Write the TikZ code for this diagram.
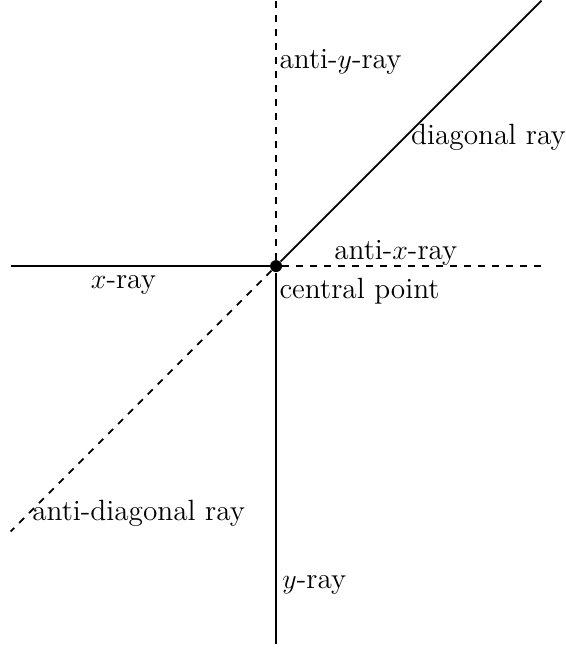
\documentclass[tikz,border=0pt]{standalone}
\usetikzlibrary{positioning}
\usepackage{amsmath}

\begin{document}
\begin{tikzpicture}[every node/.style={font=\fontsize{12.55}{15}\selectfont}, ray/.style={thick}, antiray/.style={thick, dashed}, lbl/.style={inner sep=0pt}]
        \useasboundingbox (-4.16,-5.77) rectangle (4.36,4.01);

        \node[circle, fill, inner sep=0pt, minimum size=0.18cm] (cp) at (0,0) {};
        \coordinate (xend) at (-4,0);
        \coordinate (axend) at (4,0);
        \coordinate (yend) at (0,-5.69);
        \coordinate (ayend) at (0,4);
        \coordinate (dend) at (4,4);
        \coordinate (adend) at (-4,-4);

        \draw[ray] (cp) -- (xend);
        \draw[antiray] (cp) -- (axend);
        \draw[ray] (cp) -- (yend);
        \draw[antiray] (cp) -- (ayend);
        \draw[ray] (cp) -- (dend);
        \draw[antiray] (cp) -- (adend);

        \node[lbl, anchor=west] (aylbl) at (0.045,3.07) {anti-$y$-ray};
        \node[lbl, anchor=west] (dlbl) at (2.03,1.94) {diagonal ray};
        \node[lbl, anchor=west] (axlbl) at (0.87,0.20) {anti-$x$-ray};
        \node[lbl, anchor=north west] (cplbl) at (0.045,-0.17) {central point};
        \node[lbl] (xlbl) at (-2.30,-0.29) {$x$-ray};
        \node[lbl, anchor=west] (adlbl) at (-3.68,-3.72) {anti-diagonal ray};
        \node[lbl, anchor=west] (ylbl) at (0.09,-4.81) {$y$-ray};
    \end{tikzpicture}
\end{document}
